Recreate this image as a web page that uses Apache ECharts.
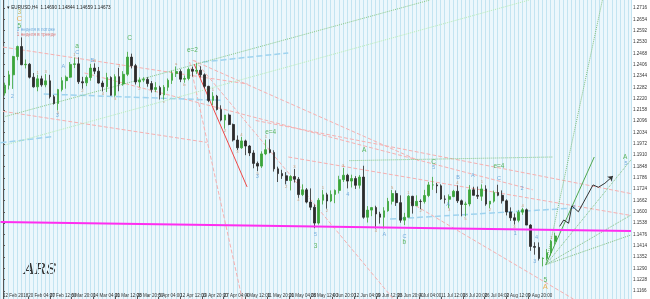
<!DOCTYPE html>
<html><head><meta charset="utf-8">
<script src="https://cdn.jsdelivr.net/npm/echarts@6/dist/echarts.min.js"></script>
<style>html,body{margin:0;padding:0;background:#fff}#c{width:650px;height:299px}</style>
</head><body><div id="c"></div>
<script>
// Trading days from 12 Feb 2018 (index 0) to 20 Aug 2018 (index 135); x value = trading days since 12 Feb 00:00
const opens = [1.2250,1.2293,1.2350,1.2450,1.2505,1.2405,1.2408,1.2337,1.2284,1.2328,
1.2295,1.2317,1.2230,1.2193,1.2269,1.2318,1.2337,1.2407,1.2410,1.2312,
1.2306,1.2335,1.2387,1.2370,1.2305,1.2285,1.2335,1.2238,1.2340,1.2300,
1.2353,1.2447,1.2400,1.2311,1.2321,1.2325,1.2302,1.2270,1.2280,1.2240,
1.2282,1.2320,1.2357,1.2368,1.2326,1.2330,1.2380,1.2370,1.2375,1.2350,
1.2287,1.2210,1.2233,1.2160,1.2102,1.2130,1.2078,1.1993,1.1950,1.1988,
1.1960,1.1922,1.1865,1.1850,1.1917,1.1940,1.1925,1.1835,1.1809,1.1797,
1.1771,1.1793,1.1778,1.1694,1.1720,1.1653,1.1625,1.1538,1.1663,1.1693,
1.1659,1.1695,1.1717,1.1776,1.1800,1.1768,1.1782,1.1745,1.1790,1.1570,
1.1609,1.1623,1.1588,1.1570,1.1605,1.1657,1.1700,1.1650,1.1554,1.1570,
1.1685,1.1633,1.1657,1.1656,1.1689,1.1747,1.1747,1.1742,1.1670,1.1668,
1.1683,1.1712,1.1660,1.1640,1.1643,1.1720,1.1690,1.1685,1.1725,1.1642,
1.1658,1.1705,1.1690,1.1660,1.1599,1.1567,1.1553,1.1598,1.1611,1.1527,
1.1410,1.1405,1.1344,1.1345,1.1376,1.1438];
const highs = [1.2307,1.2372,1.2454,1.2510,1.2555,1.2434,1.2414,1.2360,1.2350,1.2345,
1.2354,1.2350,1.2240,1.2273,1.2337,1.2346,1.2420,1.2445,1.2446,1.2339,
1.2346,1.2410,1.2413,1.2393,1.2318,1.2361,1.2342,1.2353,1.2388,1.2370,
1.2476,1.2466,1.2410,1.2336,1.2337,1.2337,1.2316,1.2310,1.2290,1.2294,
1.2330,1.2373,1.2396,1.2380,1.2346,1.2390,1.2395,1.2414,1.2397,1.2358,
1.2290,1.2255,1.2240,1.2183,1.2130,1.2138,1.2083,1.2018,1.2010,1.1995,
1.1965,1.1937,1.1875,1.1931,1.1995,1.1997,1.1937,1.1847,1.1830,1.1817,
1.1800,1.1834,1.1790,1.1750,1.1730,1.1728,1.1640,1.1675,1.1719,1.1704,
1.1717,1.1722,1.1797,1.1840,1.1808,1.1803,1.1795,1.1801,1.1852,1.1631,
1.1624,1.1633,1.1600,1.1625,1.1676,1.1719,1.1717,1.1690,1.1594,1.1692,
1.1687,1.1690,1.1668,1.1720,1.1763,1.1791,1.1758,1.1750,1.1690,1.1695,
1.1720,1.1745,1.1667,1.1655,1.1746,1.1737,1.1738,1.1750,1.1745,1.1658,
1.1716,1.1748,1.1717,1.1668,1.1624,1.1590,1.1610,1.1621,1.1618,1.1532,
1.1433,1.1432,1.1350,1.1396,1.1446,1.1485];
const lows = [1.2236,1.2270,1.2273,1.2430,1.2403,1.2385,1.2330,1.2280,1.2260,1.2285,
1.2282,1.2220,1.2187,1.2155,1.2259,1.2274,1.2333,1.2387,1.2300,1.2274,
1.2288,1.2318,1.2354,1.2302,1.2259,1.2256,1.2236,1.2230,1.2260,1.2290,
1.2343,1.2385,1.2297,1.2283,1.2310,1.2285,1.2253,1.2255,1.2215,1.2214,
1.2262,1.2300,1.2338,1.2310,1.2307,1.2320,1.2340,1.2355,1.2335,1.2276,
1.2200,1.2185,1.2155,1.2095,1.2055,1.2074,1.1985,1.1938,1.1945,1.1910,
1.1905,1.1838,1.1822,1.1840,1.1910,1.1920,1.1820,1.1763,1.1780,1.1750,
1.1717,1.1760,1.1676,1.1686,1.1646,1.1609,1.1510,1.1530,1.1640,1.1617,
1.1653,1.1647,1.1700,1.1763,1.1728,1.1733,1.1725,1.1727,1.1562,1.1541,
1.1576,1.1508,1.1535,1.1508,1.1600,1.1640,1.1632,1.1540,1.1527,1.1570,
1.1590,1.1632,1.1615,1.1645,1.1680,1.1720,1.1702,1.1665,1.1645,1.1620,
1.1680,1.1648,1.1575,1.1575,1.1630,1.1690,1.1670,1.1660,1.1633,1.1620,
1.1650,1.1685,1.1645,1.1580,1.1550,1.1530,1.1542,1.1583,1.1527,1.1386,
1.1365,1.1333,1.1301,1.1335,1.1360,1.1420];
const closes = [1.2293,1.2350,1.2450,1.2505,1.2405,1.2408,1.2337,1.2284,1.2328,1.2295,
1.2317,1.2230,1.2193,1.2269,1.2318,1.2337,1.2407,1.2410,1.2312,1.2306,
1.2335,1.2387,1.2370,1.2305,1.2285,1.2335,1.2238,1.2340,1.2300,1.2353,
1.2447,1.2400,1.2311,1.2321,1.2325,1.2302,1.2270,1.2280,1.2240,1.2282,
1.2320,1.2357,1.2368,1.2326,1.2330,1.2380,1.2370,1.2375,1.2350,1.2287,
1.2210,1.2233,1.2160,1.2102,1.2130,1.2078,1.1993,1.1950,1.1988,1.1960,
1.1922,1.1865,1.1850,1.1917,1.1940,1.1925,1.1835,1.1809,1.1797,1.1771,
1.1793,1.1778,1.1694,1.1720,1.1653,1.1625,1.1538,1.1663,1.1693,1.1659,
1.1695,1.1717,1.1776,1.1800,1.1768,1.1782,1.1745,1.1790,1.1570,1.1609,
1.1623,1.1588,1.1570,1.1605,1.1657,1.1700,1.1650,1.1554,1.1570,1.1685,
1.1633,1.1657,1.1656,1.1689,1.1747,1.1747,1.1742,1.1670,1.1668,1.1683,
1.1712,1.1660,1.1640,1.1643,1.1720,1.1690,1.1685,1.1725,1.1642,1.1658,
1.1705,1.1690,1.1660,1.1599,1.1567,1.1553,1.1598,1.1611,1.1527,1.1410,
1.1405,1.1344,1.1345,1.1376,1.1438,1.14673];

const xTickLabels = ['12 Feb 2018','20 Feb 04:00','27 Feb 12:00','6 Mar 20:00','14 Mar 04:00','21 Mar 12:00','28 Mar 20:00','5 Apr 04:00','12 Apr 12:00','19 Apr 20:00','27 Apr 04:00','4 May 12:00','11 May 20:00','21 May 04:00','28 May 12:00','4 Jun 20:00','12 Jun 04:00','19 Jun 12:00','26 Jun 20:00','4 Jul 04:00','11 Jul 12:00','18 Jul 20:00','26 Jul 04:00','2 Aug 12:00','9 Aug 20:00','17 Aug 04:00'];
const xTickDays = [0,6.17,11.5,16.83,22.17,27.5,32.83,38.17,43.5,48.83,54.17,59.5,64.83,70.17,75.5,80.83,86.17,91.5,96.83,102.17,107.5,112.83,118.17,123.5,128.83,134.17];
const yTickLabels = ['1.2716','1.2654','1.2592','1.2530','1.2468','1.2406','1.2344','1.2282','1.2220','1.2158','1.2096','1.2034','1.1972','1.1910','1.1848','1.1786','1.1724','1.1662','1.1600','1.1538','1.1476','1.1414','1.1352','1.1290','1.1228','1.1166'];
const lastPrice = 1.14673;
const headerText = '▾ EURUSD,H4  1.14690 1.14844 1.14659 1.14673';
const noteBlue = '3 неделя в потоке';
const noteRed = '1 неделя в тренде';

// trend lines: [day1, price1, day2, price2]
const magentaLine = [-0.6, 1.1544, 154.1, 1.1495];
const redLines = [[46.9, 1.2409, 59.9, 1.1736]];
const pinkLines = [[45.8,1.2420,58.7,1.1122],[47.0,1.2431,95.8,1.1122],[0,1.2502,60,1.2300],[46.5,1.2430,102,1.1880],[62,1.2100,154,1.1700],[70,1.1900,154,1.1580],[100,1.1650,140,1.1122],[0,1.2150,50,1.1980],[20,1.2360,130,1.1720]];
const blueLines = [[-0.6,1.1978,12,1.2011],[49,1.2420,70,1.2470],[95,1.1560,140,1.1620],[10,1.2245,54,1.2210]];
const greenDotted = [[0.6,1.2122,104.8,1.2760],[85,1.1880,135,1.1900]];
const lightGreenDotted = [[0.6,1.1966,129.2,1.2760]];
const fanOrigin = [133.2, 1.1310];
const fanTargets = [[147.1,1.2760],[154.1,1.1884],[154.1,1.1582],[154.1,1.1473]];
const fanSolid = [145.1, 1.1900];
const projection = [[136.6,1.1520],[137.6,1.1555],[138.8,1.1537],[139.6,1.1632],[141.2,1.1600],[144.8,1.1747],[146.1,1.1734],[147.7,1.1756]];
const projectionTip = [149.7,1.1796];

// wave labels: [day, price, text]
const wBlue = [[2.3,1.2229,'2'],[13.3,1.2130,'3'],[14.8,1.2393,'A'],[21.9,1.2431,'B'],[18.2,1.2475,'C'],[62.4,1.1792,'3'],[76.7,1.1473,'5'],[84.6,1.1692,'4'],[93.6,1.1473,'A'],[98.5,1.1467,'C'],[109.2,1.1641,'A'],[111.7,1.1789,'B'],[115.3,1.1801,'A'],[121.7,1.1783,'C'],[127.4,1.1728,'2'],[125.7,1.1482,'1'],[130.5,1.1326,'3'],[130.9,1.1460,'4'],[140.1,1.1624,'3'],[152.9,1.1867,'5'],[105.7,1.1845,'5']];
const wGreen = [[4.03,1.2617,'5'],[18.2,1.2508,'a'],[31.1,1.2552,'C'],[46.5,1.2486,'e=2'],[65.7,1.2038,'e=4'],[76.7,1.1413,'3'],[88.65,1.1938,'A'],[98.5,1.1436,'b'],[105.7,1.1874,'C'],[121.7,1.1847,'e=4'],[133.1,1.1226,'5'],[152.7,1.1900,'A']];
const wOrange = [[4.03,1.2656,'C'],[133.1,1.1190,'A']];
const wOlive = [[4.03,1.2692,'3']];
const wBrown = [[8.5,1.2362,'1'],[10.5,1.2366,'3'],[13.5,1.2143,'5'],[17.5,1.2457,'1'],[19.5,1.2262,'2'],[22.5,1.2425,'3'],[24.5,1.2247,'4'],[27.5,1.2218,'5'],[28.5,1.2400,'1'],[33.5,1.2271,'2'],[39.5,1.2202,'c'],[42.5,1.2408,'a'],[44.5,1.2295,'b'],[51.5,1.2267,'1'],[54.5,1.2043,'2'],[57.5,1.1926,'3'],[58.5,1.2022,'4'],[62.5,1.1810,'5'],[64.5,1.2009,'1'],[69.5,1.1738,'2'],[71.5,1.1846,'3'],[72.5,1.1664,'4'],[78.5,1.1731,'1'],[79.5,1.1605,'2'],[83.5,1.1852,'3'],[91.5,1.1496,'4'],[95.5,1.1731,'5'],[99.5,1.1704,'1'],[102.5,1.1603,'2'],[109.5,1.1608,'3'],[111.5,1.1757,'4'],[113.5,1.1563,'5'],[117.5,1.1762,'1'],[119.5,1.1608,'2'],[125.5,1.1518,'3'],[127.5,1.1633,'4'],[134.5,1.1458,'1']];
const notes = [[3.4,1.2598,noteBlue,'#5a9bd6'],[3.4,1.2572,noteRed,'#e06060']];

const chart = echarts.init(document.getElementById('c'));
const xMin = -0.6, xMax = 154.1, yMin = 1.11222, yMax = 1.27598;
const FONT = 'Liberation Sans';

function seg(l, color, type, width, z) {
  return {type:'line', data:[[l[0],l[1]],[l[2],l[3]]], symbol:'none', silent:true, z:z||2,
    lineStyle:{color:color, type:type, width:width||1}};
}
function labels(arr, color, size) {
  return {type:'scatter', symbolSize:0, silent:true, z:6, data:arr.map(a=>[a[0],a[1],a[2]]),
    label:{show:true, position:'inside', formatter:p=>p.data[2], color:color, fontSize:size||5.5, fontFamily:FONT}};
}

const series = [];
series.push(seg(magentaLine,'#ff2df0','solid',2,5));
redLines.forEach(l=>series.push(seg(l,'#f04848','solid',1,3)));
pinkLines.forEach(l=>series.push(seg(l,'#f7b0b0','dashed',1,2)));
blueLines.forEach(l=>series.push(seg(l,'#9fd3ef','dashed',1.5,2)));
greenDotted.forEach(l=>series.push(seg(l,'#88c888','dotted',1,2)));
lightGreenDotted.forEach(l=>series.push(seg(l,'#b6ecb6','dotted',1,2)));
fanTargets.forEach(t=>series.push(seg([fanOrigin[0],fanOrigin[1],t[0],t[1]],'#80c080','dotted',1,3)));
series.push(seg([fanOrigin[0],fanOrigin[1],fanSolid[0],fanSolid[1]],'#50a850','solid',1,3));
series.push({type:'line', data:projection, symbol:'none', silent:true, z:5, lineStyle:{color:'#333', width:1},
  markLine:{silent:true, symbol:['none','arrow'], symbolSize:5, label:{show:false}, lineStyle:{color:'#333', type:'solid', width:1},
    data:[[{coord:projection[projection.length-1]},{coord:projectionTip}]]}});
series.push({type:'candlestick', z:4, barWidth:2.2,
  data:opens.map((o,i)=>[i+0.5,o,closes[i],lows[i],highs[i]]),
  encode:{x:0,y:[1,2,3,4]},
  itemStyle:{color:'#3aa53a', color0:'#2a2a2a', borderColor:'#3aa53a', borderColor0:'#2a2a2a', borderWidth:0.8},
  markLine:{silent:true, symbol:'none', lineStyle:{opacity:0}, data:[{yAxis:lastPrice}],
    label:{position:'end', formatter:String(lastPrice), color:'#fff', backgroundColor:'#000', fontSize:4.6, fontFamily:FONT, padding:[1,1], distance:1}}});
series.push(labels(wBrown,'#c8875a',4.2));
series.push(labels(wBlue,'#5a9bd6',5.5));
series.push(labels(wGreen,'#3aa53a',6.5));
series.push(labels(wOrange,'#f0a030',7.5));
series.push(labels(wOlive,'#b8a838',6.5));
series.push({type:'scatter', symbolSize:0, silent:true, z:6, data:notes.map(n=>({value:[n[0],n[1]], name:n[2], label:{color:n[3]}})),
  label:{show:true, position:'right', distance:0, formatter:p=>p.name, fontSize:4.6, fontFamily:FONT}});

chart.setOption({
  animation:false,
  backgroundColor:'#ffffff',
  grid:{left:0, right:16, top:0, bottom:0, show:true, backgroundColor:'#ecf7fc', borderWidth:0},
  title:{text:headerText, left:2, top:0, textStyle:{fontSize:4.6, fontWeight:'normal', color:'#222', fontFamily:FONT}},
  graphic:[{type:'text', left:24, top:263, style:{text:'ARS', font:'italic 15px "DejaVu Serif"', fill:'#333'}}],
  xAxis:[
    {type:'value', min:xMin, max:xMax, position:'bottom', axisLine:{show:false}, splitLine:{show:false},
     axisTick:{show:true, inside:true, length:2, customValues:xTickDays, lineStyle:{color:'#555'}},
     axisLabel:{inside:true, customValues:xTickDays, margin:1, fontSize:4.5, color:'#333', fontFamily:FONT, align:'left',
       formatter:v=>{let b=0;xTickDays.forEach((d,i)=>{if(Math.abs(d-v)<Math.abs(xTickDays[b]-v))b=i;});return xTickLabels[b];}}},
    {type:'value', min:xMin, max:xMax, interval:1, position:'top', axisLine:{show:false}, axisTick:{show:false}, axisLabel:{show:false},
     splitLine:{show:true, lineStyle:{color:'#c3e4f1', width:1}}}
  ],
  yAxis:{type:'value', position:'right', min:yMin, max:yMax, splitLine:{show:false},
    axisLine:{show:true, lineStyle:{color:'#555'}},
    axisTick:{show:true, length:2, customValues:yTickLabels.map(Number), lineStyle:{color:'#555'}},
    axisLabel:{customValues:yTickLabels.map(Number), formatter:v=>v.toFixed(4), fontSize:4.6, color:'#333', margin:2, fontFamily:FONT}},
  series:series
});
</script></body></html>
